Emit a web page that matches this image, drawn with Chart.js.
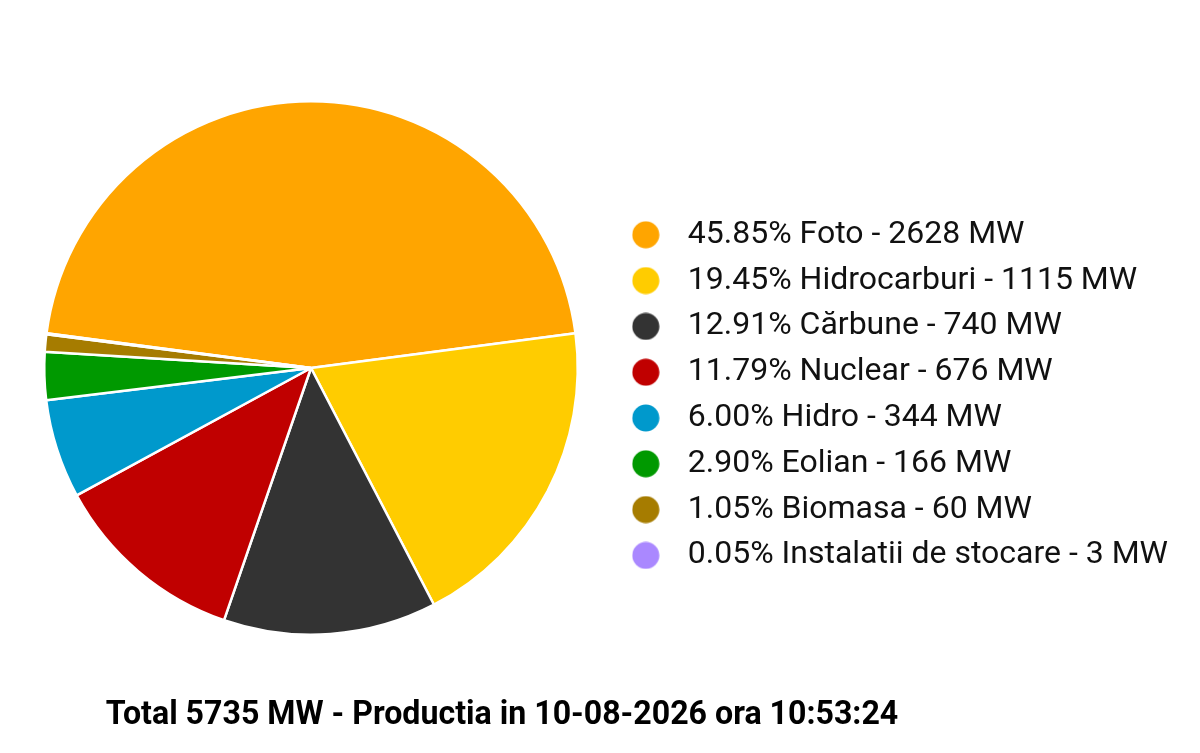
<!DOCTYPE html>
<html lang="ro">
<head>
<meta charset="UTF-8">
<title>Productia</title>
<script src="https://cdn.jsdelivr.net/npm/chart.js@4.4.1/dist/chart.umd.min.js"></script>
<style>
  html, body { margin: 0; padding: 0; background: #fff; }
  .chart { width: 1200px; height: 753px; position: relative; }
</style>
</head>
<body>
<div class="chart">
  <canvas id="pieChart"></canvas>
</div>
<script>
  // data
  const sources = ['Foto', 'Hidrocarburi', 'Cărbune', 'Nuclear', 'Hidro', 'Eolian', 'Biomasa', 'Instalatii de stocare']
  const percents = [45.85, 19.45, 12.91, 11.79, 6.00, 2.90, 1.05, 0.05]
  const megawatts = [2628, 1115, 740, 676, 344, 166, 60, 3]
  const colors = ['#ffa500', '#ffcc00', '#333333', '#c00000', '#0099cc', '#009900', '#a67c00', '#aa88ff']
  const totalMW = 5735
  const titleText = 'Total ' + totalMW + ' MW - Productia in 10-08-2026 ora 10:53:24'

  // legend dot drawn on a small canvas so the gap to the text can be set
  function dot(color) {
    const c = document.createElement('canvas')
    c.width = 28
    c.height = 28
    const g = c.getContext('2d')
    g.fillStyle = color
    g.beginPath()
    g.arc(14, 14, 13.5, 0, Math.PI * 2)
    g.fill()
    return c
  }

  // bottom caption, a bit condensed like the original
  const captionPlugin = {
    id: 'caption',
    afterDraw(chart) {
      const ctx = chart.ctx
      ctx.save()
      ctx.font = 'bold 34px Roboto'
      ctx.fillStyle = '#000'
      ctx.textAlign = 'center'
      ctx.textBaseline = 'middle'
      ctx.translate(502, 715)
      ctx.scale(0.945, 1)
      ctx.fillText(titleText, 0, 0)
      ctx.restore()
    }
  }

  const ctx = document.getElementById('pieChart').getContext('2d')
  const chart = new Chart(ctx, {
    type: 'pie',
    data: {
      labels: sources,
      datasets: [{
        data: percents,
        backgroundColor: colors,
        borderColor: '#ffffff',
        borderWidth: 2.5
      }]
    },
    options: {
      responsive: true,
      maintainAspectRatio: false,
      animation: false,
      rotation: -percents[0] * 3.6 / 2,
      layout: { padding: { left: 16, right: 22, top: 100, bottom: 117 } },
      plugins: {
        tooltip: { enabled: false },
        legend: {
          position: 'right',
          align: 'start',
          title: { display: true, text: ' ', font: { size: 12 }, padding: { top: 90.6, bottom: 0 } },
          labels: {
            usePointStyle: true,
            pointStyleWidth: 52,
            padding: 13.8,
            font: { family: 'Roboto', size: 32 },
            generateLabels(chart) {
              return sources.map((s, i) => ({
                text: percents[i].toFixed(2) + '% ' + s + ' - ' + megawatts[i] + ' MW',
                fillStyle: colors[i],
                strokeStyle: colors[i],
                fontColor: '#111',
                lineWidth: 0,
                pointStyle: dot(colors[i]),
                hidden: false,
                index: i
              }))
            }
          }
        }
      }
    },
    plugins: [captionPlugin]
  });
</script>
</body>
</html>
